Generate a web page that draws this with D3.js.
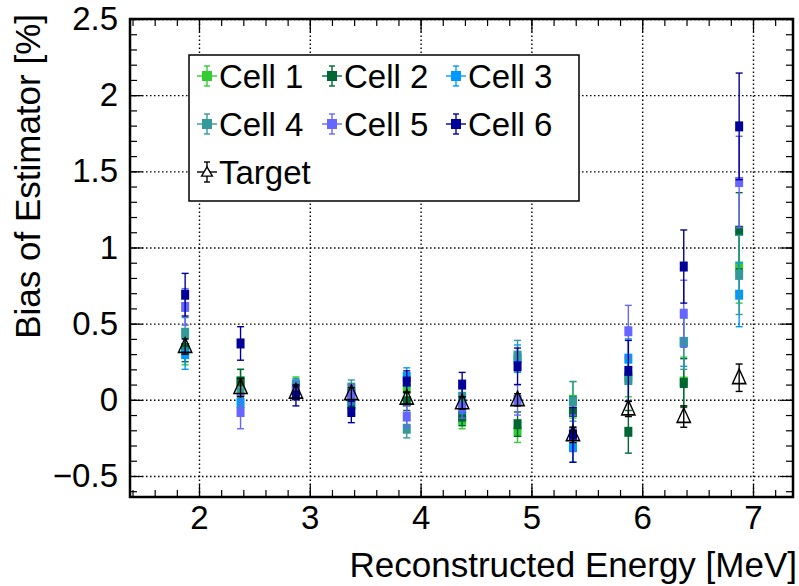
<!DOCTYPE html>
<html>
<head>
<meta charset="utf-8">
<script src="https://cdn.jsdelivr.net/npm/d3@7"></script>
<style>
  body { margin: 0; background: #fff; }
  svg { display: block; font-family: "Liberation Sans", Arial, sans-serif; }
</style>
</head>
<body>
<svg id="chart" width="799" height="586"></svg>
<script>
const energies = [1.875, 2.375, 2.875, 3.375, 3.875, 4.375, 4.875, 5.375, 5.875, 6.375, 6.875]

const series_names = ["Cell 1", "Cell 2", "Cell 3", "Cell 4", "Cell 5", "Cell 6"]

const cell1 = [0.32, 0.12, 0.10, 0.05, 0.07, -0.14, -0.21, 0.00, 0.15, 0.12, 0.875]
const cell2 = [0.34, 0.12, 0.07, -0.03, -0.01, -0.11, -0.16, -0.08, -0.21, 0.11, 1.11]
const cell3 = [0.30, -0.02, 0.08, 0.02, 0.15, -0.03, 0.27, -0.31, 0.27, 0.38, 0.69]
const cell4 = [0.44, 0.05, 0.09, 0.08, -0.19, 0.02, 0.29, -0.01, 0.13, 0.38, 0.82]
const cell5 = [0.61, -0.08, 0.06, 0.04, -0.11, -0.05, 0.00, -0.22, 0.45, 0.565, 1.43]
const cell6 = [0.69, 0.37, 0.03, -0.08, 0.12, 0.10, 0.22, -0.23, 0.19, 0.875, 1.795]
const target = [0.35, 0.08, 0.05, 0.04, 0.01, -0.02, 0.00, -0.23, -0.06, -0.11, 0.145]

const cell1_err = [0.09, 0.08, 0.05, 0.05, 0.05, 0.05, 0.07, 0.12, 0.13, 0.16, 0.24]
const cell2_err = [0.09, 0.08, 0.05, 0.05, 0.06, 0.06, 0.08, 0.10, 0.14, 0.16, 0.25]
const cell3_err = [0.10, 0.08, 0.05, 0.05, 0.06, 0.06, 0.09, 0.10, 0.13, 0.16, 0.21]
const cell4_err = [0.10, 0.09, 0.05, 0.05, 0.06, 0.07, 0.10, 0.13, 0.14, 0.18, 0.26]
const cell5_err = [0.12, 0.11, 0.06, 0.06, 0.07, 0.07, 0.10, 0.12, 0.17, 0.22, 0.30]
const cell6_err = [0.14, 0.11, 0.07, 0.07, 0.07, 0.08, 0.12, 0.18, 0.20, 0.24, 0.35]
const target_err = [0.05, 0.06, 0.04, 0.04, 0.04, 0.04, 0.04, 0.05, 0.05, 0.07, 0.09]

const cell_colors = ["#33cc33", "#006633", "#0099ff", "#339999", "#6666ff", "#000099"]

const x_ticks = [2, 3, 4, 5, 6, 7]
const y_ticks = [-0.5, 0, 0.5, 1, 1.5, 2, 2.5]

const cells = [
  {name: series_names[0], values: cell1, errors: cell1_err, color: cell_colors[0]},
  {name: series_names[1], values: cell2, errors: cell2_err, color: cell_colors[1]},
  {name: series_names[2], values: cell3, errors: cell3_err, color: cell_colors[2]},
  {name: series_names[3], values: cell4, errors: cell4_err, color: cell_colors[3]},
  {name: series_names[4], values: cell5, errors: cell5_err, color: cell_colors[4]},
  {name: series_names[5], values: cell6, errors: cell6_err, color: cell_colors[5]},
]

const frame = {left: 130, right: 793, top: 19, bottom: 497}

const svg = d3.select("#chart")

const x = d3.scaleLinear().domain([1.3773, 7.361]).range([frame.left, frame.right])
const y = d3.scaleLinear().domain([-0.638, 2.5]).range([frame.bottom, frame.top])

const x_minor = d3.range(1.4, 7.36, 0.2).map(v => Math.round(v * 10) / 10)
const y_minor = d3.range(-0.6, 2.51, 0.1).map(v => Math.round(v * 10) / 10)

const plot_w = frame.right - frame.left
const plot_h = frame.bottom - frame.top

// grid
svg.append("g")
  .attr("class", "grid")
  .attr("transform", `translate(0,${frame.bottom})`)
  .call(d3.axisBottom(x).tickValues(x_ticks).tickSize(-plot_h).tickFormat(""))
svg.append("g")
  .attr("class", "grid")
  .attr("transform", `translate(${frame.left},0)`)
  .call(d3.axisLeft(y).tickValues(y_ticks).tickSize(-plot_w).tickFormat(""))
svg.selectAll(".grid .domain").remove()
svg.selectAll(".grid line")
  .attr("stroke", "#000")
  .attr("stroke-width", 1.4)
  .attr("stroke-dasharray", "1.5,2.5")

// ticks on all four sides, pointing inward
function tick_axis(axis, transform, values, size, labels){
  const g = svg.append("g")
    .attr("transform", transform)
    .call(axis.tickValues(values).tickSize(size).tickPadding(9).tickFormat(labels ? d3.format("") : ""))
  g.select(".domain").remove()
  g.selectAll("line").attr("stroke", "#000").attr("stroke-width", 1.2)
  return g
}

tick_axis(d3.axisBottom(x), `translate(0,${frame.bottom})`, x_minor, -7, false)
tick_axis(d3.axisTop(x), `translate(0,${frame.top})`, x_minor, -7, false)
tick_axis(d3.axisTop(x), `translate(0,${frame.top})`, x_ticks, -13, false)
const x_axis = tick_axis(d3.axisBottom(x), `translate(0,${frame.bottom})`, x_ticks, -13, true)

tick_axis(d3.axisLeft(y), `translate(${frame.left},0)`, y_minor, -7, false)
tick_axis(d3.axisRight(y), `translate(${frame.right},0)`, y_minor, -7, false)
tick_axis(d3.axisRight(y), `translate(${frame.right},0)`, y_ticks, -13, false)
const y_axis = tick_axis(d3.axisLeft(y), `translate(${frame.left},0)`, y_ticks, -13, true)

x_axis.selectAll("text")
  .attr("font-size", 33)
  .attr("font-family", "Liberation Sans, Arial, sans-serif")
  .attr("fill", "#000")
  .attr("dy", "0.71em")
  .attr("y", 9)

y_axis.selectAll("text")
  .attr("font-size", 33)
  .attr("font-family", "Liberation Sans, Arial, sans-serif")
  .attr("fill", "#000")
  .attr("x", -12)
  .text(d => d < 0 ? "\u2212" + Math.abs(d) : d)

// frame
svg.append("rect")
  .attr("x", frame.left)
  .attr("y", frame.top)
  .attr("width", plot_w)
  .attr("height", plot_h)
  .attr("fill", "none")
  .attr("stroke", "#000")
  .attr("stroke-width", 2.5)

// axis titles
svg.append("text")
  .attr("text-anchor", "end")
  .attr("x", 797)
  .attr("y", 577)
  .attr("font-size", 35)
  .text("Reconstructed Energy [MeV]")

svg.append("text")
  .attr("text-anchor", "end")
  .attr("transform", "translate(40,14) rotate(-90)")
  .attr("font-size", 35)
  .text("Bias of Estimator [%]")

// data
const mark_w = 8
const mark_h = 10
const cap = 3.5

function draw_errors(g, values, errors, color){
  values.forEach((v, i) => {
    const cx = x(energies[i])
    const y1 = y(v + errors[i])
    const y2 = y(v - errors[i])
    g.append("line").attr("x1", cx).attr("x2", cx).attr("y1", y1).attr("y2", y2)
      .attr("stroke", color).attr("stroke-width", 1.4)
    g.append("line").attr("x1", cx - cap).attr("x2", cx + cap).attr("y1", y1).attr("y2", y1)
      .attr("stroke", color).attr("stroke-width", 1.4)
    g.append("line").attr("x1", cx - cap).attr("x2", cx + cap).attr("y1", y2).attr("y2", y2)
      .attr("stroke", color).attr("stroke-width", 1.4)
  })
}

const data_g = svg.append("g")

cells.forEach(cell => {
  const g = data_g.append("g")
  draw_errors(g, cell.values, cell.errors, cell.color)
  g.selectAll("rect")
    .data(cell.values)
    .enter()
    .append("rect")
    .attr("x", (d, i) => x(energies[i]) - mark_w / 2)
    .attr("y", d => y(d) - mark_h / 2)
    .attr("width", mark_w)
    .attr("height", mark_h)
    .attr("fill", cell.color)
})

const tri = d3.symbol().type(d3.symbolTriangle).size(85)

const target_g = data_g.append("g")
draw_errors(target_g, target, target_err, "#000")
target_g.selectAll("path")
  .data(target)
  .enter()
  .append("path")
  .attr("d", tri)
  .attr("transform", (d, i) => `translate(${x(energies[i])},${y(d) + 1}) scale(0.95,1.2)`)
  .attr("fill", "none")
  .attr("stroke", "#000")
  .attr("stroke-width", 1.4)

// legend
const legend = svg.append("g")
legend.append("rect")
  .attr("x", 189)
  .attr("y", 55)
  .attr("width", 390)
  .attr("height", 146)
  .attr("fill", "#fff")
  .attr("stroke", "#000")
  .attr("stroke-width", 1.5)

const col_x = [207, 332, 456]
const row_y = [76, 124, 172]

function legend_marker(cx, cy, color, shape){
  legend.append("line").attr("x1", cx - 10).attr("x2", cx + 10).attr("y1", cy).attr("y2", cy)
    .attr("stroke", color).attr("stroke-width", 1.4)
  legend.append("line").attr("x1", cx).attr("x2", cx).attr("y1", cy - 10).attr("y2", cy + 10)
    .attr("stroke", color).attr("stroke-width", 1.4)
  legend.append("line").attr("x1", cx - 3).attr("x2", cx + 3).attr("y1", cy - 10).attr("y2", cy - 10)
    .attr("stroke", color).attr("stroke-width", 1.4)
  legend.append("line").attr("x1", cx - 3).attr("x2", cx + 3).attr("y1", cy + 10).attr("y2", cy + 10)
    .attr("stroke", color).attr("stroke-width", 1.4)
  if (shape == "square"){
    legend.append("rect").attr("x", cx - 5).attr("y", cy - 5).attr("width", 10).attr("height", 10)
      .attr("fill", color)
  }
  else {
    legend.append("path").attr("d", d3.symbol().type(d3.symbolTriangle).size(50))
      .attr("transform", `translate(${cx},${cy + 1})`)
      .attr("fill", "#fff").attr("stroke", color).attr("stroke-width", 1.4)
  }
}

cells.forEach((cell, i) => {
  const cx = col_x[i % 3]
  const cy = row_y[Math.floor(i / 3)]
  legend_marker(cx, cy, cell.color, "square")
  legend.append("text")
    .attr("x", cx + 12)
    .attr("y", cy + 12)
    .attr("font-size", 33)
    .text(cell.name)
})

legend_marker(col_x[0], row_y[2], "#000", "triangle")
legend.append("text")
  .attr("x", col_x[0] + 12)
  .attr("y", row_y[2] + 12)
  .attr("font-size", 33)
  .text("Target")
</script>
</body>
</html>
